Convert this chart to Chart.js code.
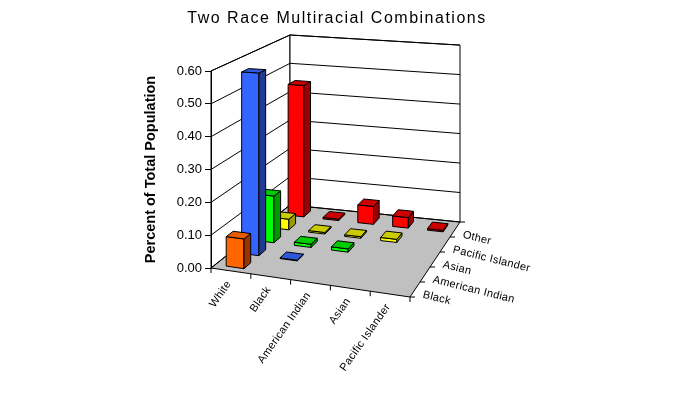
<!DOCTYPE html>
<html><head><meta charset="utf-8">
<script src="https://cdn.jsdelivr.net/npm/chart.js@4.4.1/dist/chart.umd.min.js"></script>
<style>html,body{margin:0;padding:0;background:#fff;overflow:hidden}canvas{display:block}</style>
</head><body>
<canvas id="c" width="675" height="413"></canvas>
<script>
// ---------- data ----------
const chartTitle = 'Two Race Multiracial Combinations';
const yAxisTitle = 'Percent of Total Population';
const columns = ['White', 'Black', 'American Indian', 'Asian', 'Pacific Islander'];
const depthSeries = ['Black', 'American Indian', 'Asian', 'Pacific Islander', 'Other'];
const yTickValues = [0, 0.1, 0.2, 0.3, 0.4, 0.5, 0.6];
// values per depth series, one entry per column (null = no bar)
const blackVals   = [0.09,  null,  null,  null,  null];
const amIndVals   = [0.57,  0.002, null,  null,  null];
const asianVals   = [0.15,  0.01,  0.01,  null,  null];
const pacIslVals  = [0.035, 0.005, 0.005, 0.01,  null];
const otherVals   = [0.45,  0.005, 0.06,  0.035, 0.005];
const seriesValues = [blackVals, amIndVals, asianVals, pacIslVals, otherVals];

// ---------- style ----------
const seriesColors = [
  {front: '#FF6600', top: '#E65C00', side: '#993300'},
  {front: '#3366FF', top: '#2F57D9', side: '#1F3A8F'},
  {front: '#00FF00', top: '#00CC00', side: '#009900'},
  {front: '#FFFF00', top: '#CCCC00', side: '#999900'},
  {front: '#FF0000', top: '#CC0000', side: '#990000'}
];
const GEOM = {frontDrop: 29, blOff: [79, -63], brOff: [50, -75], kFR: 1.09, kBL: 0.863, kBR: 0.898, barW: 0.45, barD: 0.45};
const FONT = '"Liberation Sans", Arial, sans-serif';

function projector(chart) {
  const xs = chart.scales.x, ys = chart.scales.y;
  const y0 = ys.getPixelForValue(0);
  const FL = [xs.getPixelForValue(0), y0];
  const FR = [xs.getPixelForValue(columns.length), y0 + GEOM.frontDrop];
  const BL = [FL[0] + GEOM.blOff[0], FL[1] + GEOM.blOff[1]];
  const BR = [FR[0] + GEOM.brOff[0], FR[1] + GEOM.brOff[1]];
  return function (u, w, v) {
    const s = (xs.getPixelForValue(u) - FL[0]) / (FR[0] - FL[0]);
    const t = w / depthSeries.length;
    const a = (1 - s) * (1 - t), b = s * (1 - t), c = (1 - s) * t, d = s * t;
    const x = a * FL[0] + b * FR[0] + c * BL[0] + d * BR[0];
    const y = a * FL[1] + b * FR[1] + c * BL[1] + d * BR[1];
    const k = a + b * GEOM.kFR + c * GEOM.kBL + d * GEOM.kBR;
    const h = (y0 - ys.getPixelForValue(v)) * k;
    return [x, y - h];
  };
}

function poly(ctx, pts, fill, stroke) {
  ctx.beginPath();
  ctx.moveTo(pts[0][0], pts[0][1]);
  for (let i = 1; i < pts.length; i++) ctx.lineTo(pts[i][0], pts[i][1]);
  ctx.closePath();
  if (fill) { ctx.fillStyle = fill; ctx.fill(); }
  if (stroke) { ctx.strokeStyle = stroke; ctx.lineWidth = 1; ctx.stroke(); }
}
function line(ctx, p, q) {
  ctx.beginPath(); ctx.moveTo(p[0], p[1]); ctx.lineTo(q[0], q[1]); ctx.stroke();
}

const threeD = {
  id: 'threeD',
  beforeDraw(chart) {
    const ctx = chart.ctx, P = projector(chart);
    const nC = columns.length, nD = depthSeries.length;
    const vmax = chart.scales.y.max;
    ctx.save();
    ctx.fillStyle = '#fff'; ctx.fillRect(0, 0, chart.width, chart.height);
    // floor
    poly(ctx, [P(0, 0, 0), P(nC, 0, 0), P(nC, nD, 0), P(0, nD, 0)], '#C0C0C0', null);
    // walls
    poly(ctx, [P(0, 0, 0), P(0, nD, 0), P(0, nD, vmax), P(0, 0, vmax)], '#FFFFFF', '#000');
    poly(ctx, [P(0, nD, 0), P(nC, nD, 0), P(nC, nD, vmax), P(0, nD, vmax)], '#FFFFFF', '#000');
    ctx.strokeStyle = '#000'; ctx.lineWidth = 1;
    yTickValues.forEach(v => {
      line(ctx, P(0, 0, v), P(0, nD, v));
      line(ctx, P(0, nD, v), P(nC, nD, v));
    });
    // floor front and right edges
    line(ctx, P(0, 0, 0), P(nC, 0, 0));
    line(ctx, P(nC, 0, 0), P(nC, nD, 0));
    // ticks
    for (let c = 0; c <= nC; c++) { const p = P(c, 0, 0); line(ctx, p, [p[0], p[1] + 5]); }
    for (let r = 0; r <= nD; r++) { const p = P(nC, r, 0); line(ctx, p, [p[0] + 5, p[1]]); }
    ctx.restore();
  },
  afterDatasetsDraw(chart) {
    const ctx = chart.ctx, P = projector(chart);
    ctx.save();
    ctx.lineJoin = 'miter';
    for (let r = chart.data.datasets.length - 1; r >= 0; r--) {
      const ds = chart.data.datasets[r];
      const col = seriesColors[r];
      const pts = ds.data.slice().sort((a, b) => a.x - b.x);
      pts.forEach(pt => {
        const u0 = pt.x - GEOM.barW / 2, u1 = pt.x + GEOM.barW / 2;
        const w0 = r + 0.5 - GEOM.barD / 2, w1 = r + 0.5 + GEOM.barD / 2;
        const v = pt.y;
        const A = P(u0, w0, 0), B = P(u1, w0, 0), C = P(u1, w0, v), D = P(u0, w0, v);
        const E = P(u1, w1, 0), F = P(u1, w1, v), G = P(u0, w1, v);
        poly(ctx, [A, B, C, D], col.front, '#000');
        poly(ctx, [B, E, F, C], col.side, '#000');
        poly(ctx, [D, C, F, G], col.top, '#000');
      });
    }
    ctx.restore();
  },
  afterDraw(chart) {
    const ctx = chart.ctx, P = projector(chart);
    const nC = columns.length;
    ctx.save();
    ctx.fillStyle = '#000';
    ctx.font = '11px ' + FONT;
    try { ctx.letterSpacing = '0.3px'; } catch (e) {}
    columns.forEach((lab, c) => {
      const p = P(c + 0.5, 0, 0);
      ctx.save();
      ctx.translate(p[0] - 2, p[1] + 11);
      ctx.rotate(-55 * Math.PI / 180);
      ctx.textAlign = 'right'; ctx.textBaseline = 'middle';
      ctx.fillText(lab, 0, 0);
      ctx.restore();
    });
    depthSeries.forEach((lab, r) => {
      const p = P(nC, r + 0.5, 0);
      ctx.save();
      ctx.translate(p[0] + 8, p[1] + 5);
      ctx.rotate(14 * Math.PI / 180);
      ctx.textAlign = 'left'; ctx.textBaseline = 'middle';
      ctx.fillText(lab, 0, 0);
      ctx.restore();
    });
    ctx.font = '16px ' + FONT;
    try { ctx.letterSpacing = '1.5px'; } catch (e) {}
    ctx.textAlign = 'center'; ctx.textBaseline = 'middle';
    ctx.fillText(chartTitle, 337, 19);
    ctx.restore();
  }
};

const datasets = depthSeries.map((name, r) => ({
  label: name,
  data: seriesValues[r].map((v, c) => v === null ? null : {x: c + 0.5, y: v}).filter(p => p !== null),
  pointRadius: 0,
  showLine: false
}));

new Chart(document.getElementById('c'), {
  type: 'scatter',
  data: {datasets},
  options: {
    responsive: false,
    animation: false,
    devicePixelRatio: 1,
    layout: {padding: {left: 142, right: 265, top: 71, bottom: 145}},
    plugins: {legend: {display: false}, title: {display: false}, tooltip: {enabled: false}},
    scales: {
      x: {type: 'linear', min: 0, max: columns.length, display: false},
      y: {
        type: 'linear', position: 'left', min: 0, max: 0.6,
        afterBuildTicks: s => { s.ticks = yTickValues.map(v => ({value: v})); },
        afterFit: s => { s.width = 69; },
        ticks: {color: '#000', padding: 3, font: {family: FONT, size: 13}, callback: v => Number(v).toFixed(2)},
        grid: {drawOnChartArea: false, tickLength: 6, color: '#000', lineWidth: 1},
        border: {display: true, color: '#000', width: 1},
        title: {display: true, text: yAxisTitle, color: '#000', padding: {top: 0, bottom: 0}, font: {family: FONT, size: 14.5, weight: 'bold'}}
      }
    }
  },
  plugins: [threeD]
});
</script>
</body></html>
